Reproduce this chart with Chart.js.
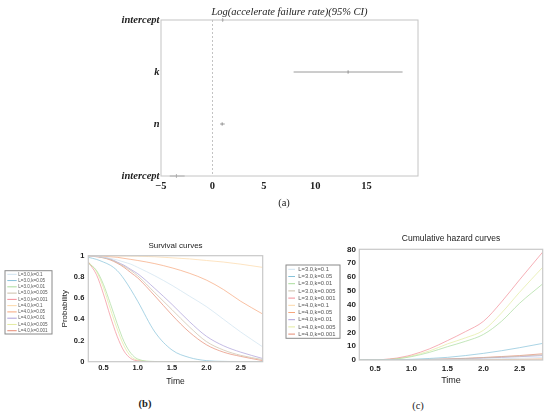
<!DOCTYPE html>
<html>
<head>
<meta charset="utf-8">
<script src="https://cdn.jsdelivr.net/npm/chart.js@4.4.0/dist/chart.umd.min.js"></script>
<style>
  body { margin: 0; background: #fff; }
  #wrap { position: relative; width: 550px; height: 415px; overflow: hidden; }
  canvas { position: absolute; }
  .cap { position: absolute; font-family: "Liberation Serif", serif; font-size: 10.5px; color: #222; transform: translate(-50%, -50%); }
</style>
</head>
<body>
<div id="wrap">
  <canvas id="chartA" width="550" height="200" style="left:0;top:0"></canvas>
  <canvas id="chartB" width="272" height="160" style="left:0;top:235px"></canvas>
  <canvas id="chartC" width="278" height="165" style="left:272px;top:228px"></canvas>
  <div class="cap" style="left:284px;top:202px">(a)</div>
  <div class="cap" style="left:145px;top:403px;font-weight:bold">(b)</div>
  <div class="cap" style="left:418px;top:405px">(c)</div>
</div>
<script>
// (a) coefficient plot
const paramLabels = ['intercept', 'k', 'n', 'intercept'];
const paramEst = [1.0, 13.2, 0.95, -3.5];
const paramLow = [0.9, 7.9, 0.75, -4.15];
const paramHigh = [1.1, 18.5, 1.2, -2.7];
const rateTicks = [-5, 0, 5, 10, 15];

// (b) and (c) share time points and groups
const times = [0.28, 0.4, 0.5, 0.6, 0.7, 0.8, 0.9, 1.0, 1.25, 1.5, 1.75, 2.0, 2.25, 2.5, 2.82];
const timeTicks = [0.5, 1.0, 1.5, 2.0, 2.5];
const probTicks = [0, 0.2, 0.4, 0.6, 0.8, 1];
const hazardTicks = [0, 10, 20, 30, 40, 50, 60, 70, 80];
const groups = ['L=3.0,k=0.1', 'L=3.0,k=0.05', 'L=3.0,k=0.01', 'L=3.0,k=0.005', 'L=3.0,k=0.001',
                'L=4.0,k=0.1', 'L=4.0,k=0.05', 'L=4.0,k=0.01', 'L=4.0,k=0.005', 'L=4.0,k=0.001'];
const groupColors = ['#cfe3f0', '#86c2da', '#a9dc9c', '#cbbfa8', '#f28e98',
                     '#fcd8a8', '#f6a67c', '#ab9ed8', '#e3eba0', '#e58a72'];

const survL3k01   = [1, 0.995, 0.985, 0.975, 0.96, 0.94, 0.92, 0.89, 0.81, 0.72, 0.62, 0.52, 0.40, 0.28, 0.14];
const survL3k005  = [0.985, 0.965, 0.94, 0.91, 0.86, 0.78, 0.68, 0.57, 0.28, 0.11, 0.04, 0.01, 0.003, 0, 0];
const survL3k001  = [0.93, 0.86, 0.73, 0.55, 0.36, 0.19, 0.08, 0.025, 0.002, 0, 0, 0, 0, 0, 0];
const survL3k0005 = [1, 0.995, 0.98, 0.965, 0.935, 0.90, 0.86, 0.81, 0.65, 0.49, 0.33, 0.19, 0.11, 0.06, 0.02];
const survL3k0001 = [0.94, 0.82, 0.64, 0.43, 0.24, 0.10, 0.03, 0.008, 0, 0, 0, 0, 0, 0, 0];
const survL4k01   = [1, 1, 1, 0.999, 0.998, 0.997, 0.996, 0.995, 0.99, 0.98, 0.97, 0.955, 0.94, 0.92, 0.89];
const survL4k005  = [1, 1, 0.995, 0.99, 0.985, 0.975, 0.965, 0.955, 0.925, 0.885, 0.835, 0.77, 0.68, 0.57, 0.45];
const survL4k001  = [1, 0.995, 0.985, 0.97, 0.94, 0.91, 0.87, 0.83, 0.69, 0.54, 0.38, 0.24, 0.15, 0.09, 0.03];
const survL4k0005 = [0.94, 0.85, 0.70, 0.50, 0.31, 0.15, 0.05, 0.015, 0.001, 0, 0, 0, 0, 0, 0];
const survL4k0001 = [1, 0.99, 0.98, 0.96, 0.93, 0.89, 0.84, 0.79, 0.62, 0.44, 0.28, 0.16, 0.09, 0.05, 0.01];

const hazL3k01   = [0, 0, 0, 0, 0.01, 0.02, 0.04, 0.08, 0.18, 0.3, 0.45, 0.65, 0.9, 1.25, 1.9];
const hazL3k005  = [0, 0, 0.01, 0.03, 0.07, 0.15, 0.3, 0.5, 1.1, 1.9, 3.2, 4.8, 6.7, 8.9, 12];
const hazL3k001  = [0, 0.02, 0.07, 0.2, 0.4, 0.8, 1.5, 2.4, 5.5, 9.6, 13.5, 18.5, 28, 41, 55];
const hazL3k0005 = [0, 0, 0, 0.01, 0.02, 0.04, 0.08, 0.15, 0.38, 0.65, 1.05, 1.6, 2.2, 2.8, 3.8];
const hazL3k0001 = [0, 0.02, 0.1, 0.3, 0.8, 1.4, 2.4, 3.6, 8, 14, 20.5, 28, 42, 58, 78];
const hazL4k01   = [0, 0, 0, 0, 0, 0, 0, 0.005, 0.01, 0.02, 0.03, 0.045, 0.06, 0.08, 0.12];
const hazL4k005  = [0, 0, 0, 0, 0, 0.01, 0.02, 0.03, 0.06, 0.1, 0.16, 0.24, 0.36, 0.52, 0.8];
const hazL4k001  = [0, 0, 0, 0, 0.01, 0.03, 0.06, 0.12, 0.3, 0.55, 0.9, 1.4, 1.9, 2.4, 3.2];
const hazL4k0005 = [0, 0.02, 0.08, 0.25, 0.5, 1.0, 1.8, 2.9, 6.5, 11.6, 16, 21.5, 34, 49, 67];
const hazL4k0001 = [0, 0, 0, 0.01, 0.02, 0.05, 0.1, 0.2, 0.45, 0.75, 1.2, 1.8, 2.5, 3.2, 4.5];

const survival = [survL3k01, survL3k005, survL3k001, survL3k0005, survL3k0001,
                  survL4k01, survL4k005, survL4k001, survL4k0005, survL4k0001];
const hazard = [hazL3k01, hazL3k005, hazL3k001, hazL3k0005, hazL3k0001,
                hazL4k01, hazL4k005, hazL4k001, hazL4k0005, hazL4k0001];

Chart.defaults.font.family = '"Liberation Sans", Arial, sans-serif';
Chart.defaults.color = '#222';
Chart.defaults.animation = false;

const serif = '"Liberation Serif", "DejaVu Serif", serif';

// plot lines are drawn paler than the legend swatches
function pale(hex, a) {
    const n = parseInt(hex.slice(1), 16);
    return 'rgba(' + (n >> 16) + ',' + ((n >> 8) & 255) + ',' + (n & 255) + ',' + a + ')';
}

// draws the grey frame round the plot area
const plotBox = {
    id: 'plotBox',
    afterDraw(chart, args, opts) {
        const a = chart.chartArea;
        const ctx = chart.ctx;
        ctx.save();
        ctx.strokeStyle = opts.color;
        ctx.lineWidth = opts.width;
        ctx.strokeRect(a.left, a.top, a.right - a.left, a.bottom - a.top);
        ctx.restore();
    }
};

// dotted reference line at x = 0
const zeroLine = {
    id: 'zeroLine',
    beforeDatasetsDraw(chart) {
        const x = chart.scales.x.getPixelForValue(0);
        const a = chart.chartArea;
        const ctx = chart.ctx;
        ctx.save();
        ctx.strokeStyle = '#b5b5b5';
        ctx.lineWidth = 0.8;
        ctx.setLineDash([2, 2]);
        ctx.beginPath();
        ctx.moveTo(x, a.top);
        ctx.lineTo(x, a.bottom);
        ctx.stroke();
        ctx.restore();
    }
};

// small framed legend placed to the left of the plot
const boxLegend = {
    id: 'boxLegend',
    afterDraw(chart, args, o) {
        const ctx = chart.ctx;
        ctx.save();
        ctx.strokeStyle = '#8a8a8a';
        ctx.lineWidth = 1;
        ctx.strokeRect(o.left, o.top, o.width, o.height);
        ctx.font = o.fontSize + 'px "Liberation Sans", Arial, sans-serif';
        ctx.textBaseline = 'middle';
        chart.data.datasets.forEach((ds, i) => {
            const y = o.firstRow + i * o.rowGap;
            ctx.strokeStyle = groupColors[i];
            ctx.lineWidth = 1;
            ctx.beginPath();
            ctx.moveTo(o.lineX0, y);
            ctx.lineTo(o.lineX1, y);
            ctx.stroke();
            ctx.fillStyle = '#555';
            ctx.fillText(ds.label, o.textX, y);
        });
        ctx.restore();
    }
};

// ---------- (a) ----------
const ciSets = paramLabels.map((lab, i) => ({
    label: lab,
    data: [{x: paramLow[i], y: i}, {x: paramHigh[i], y: i}],
    showLine: true,
    borderColor: '#9a9a9a',
    borderWidth: 1,
    pointRadius: 0,
    clip: false
}));
ciSets.push({
    label: 'estimate',
    data: paramEst.map((v, i) => ({x: v, y: i})),
    pointStyle: 'line',
    rotation: 90,
    pointRadius: 1.6,
    borderColor: '#888',
    borderWidth: 1,
    clip: false
});

new Chart(document.getElementById('chartA'), {
    type: 'scatter',
    data: { datasets: ciSets },
    options: {
        responsive: false,
        layout: { padding: { left: 0, right: 132, top: 0, bottom: 0 } },
        plugins: {
            legend: { display: false },
            tooltip: { enabled: false },
            title: {
                display: true,
                fullSize: false,
                text: 'Log(accelerate failure rate)(95% CI)',
                font: { family: serif, size: 10.5, style: 'italic', weight: 'normal' },
                color: '#222',
                padding: { top: 6, bottom: 1.4 }
            },
            plotBox: { color: '#c4c4c4', width: 1 }
        },
        scales: {
            x: {
                type: 'linear', min: -5, max: 20,
                afterBuildTicks: s => { s.ticks = rateTicks.map(v => ({value: v})); },
                afterFit: s => { s.height = 24; },
                grid: { display: false, drawTicks: false },
                border: { display: false },
                ticks: {
                    padding: 4,
                    font: { family: serif, size: 10.5, weight: 'bold' },
                    color: '#222',
                    callback: v => (v < 0 ? '\u2212' + Math.abs(v) : '' + v)
                }
            },
            y: {
                type: 'linear', min: 0, max: 3, reverse: true,
                afterBuildTicks: s => { s.ticks = paramLabels.map((l, i) => ({value: i})); },
                afterFit: s => { s.width = 161; },
                grid: { display: false, drawTicks: false },
                border: { display: false },
                ticks: {
                    padding: 1.5,
                    font: { family: serif, size: 10.5, weight: 'bold', style: 'italic' },
                    color: '#222',
                    callback: v => paramLabels[v]
                }
            }
        }
    },
    plugins: [zeroLine, plotBox]
});

// ---------- (b) and (c) ----------
function curveSets(series) {
    return series.map((ys, i) => ({
        label: groups[i],
        data: times.map((t, j) => ({x: t, y: ys[j]})),
        borderColor: pale(groupColors[i], 0.7),
        borderWidth: 1,
        pointRadius: 0,
        cubicInterpolationMode: 'monotone',
        fill: false
    }));
}

function timeAxis(height, labelPad, fontSize, titleSize) {
    return {
        type: 'linear', min: 0.28, max: 2.82,
        afterBuildTicks: s => { s.ticks = timeTicks.map(v => ({value: v})); },
        afterFit: s => { s.height = height; },
        grid: { display: false, drawTicks: false },
        border: { display: false },
        title: { display: true, text: 'Time', font: { size: titleSize }, color: '#222', padding: { top: 0, bottom: 2 } },
        ticks: { padding: labelPad, font: { size: fontSize, weight: 'bold' }, color: '#222', callback: v => v.toFixed(1) }
    };
}

new Chart(document.getElementById('chartB'), {
    type: 'line',
    data: { datasets: curveSets(survival) },
    options: {
        responsive: false,
        layout: { padding: { left: 56, right: 9.3, top: 0, bottom: 6.2 } },
        plugins: {
            legend: { display: false },
            tooltip: { enabled: false },
            title: {
                display: true, fullSize: false, text: 'Survival curves',
                font: { size: 8, weight: 'normal' }, color: '#222',
                padding: { top: 6.2, bottom: 4.9 }
            },
            plotBox: { color: '#c8c8c8', width: 1.2 },
            boxLegend: { left: 5, top: 35.7, width: 47, height: 63.3, firstRow: 39.3, rowGap: 6.27,
                         lineX0: 7.3, lineX1: 16.7, textX: 18.3, fontSize: 4.6 }
        },
        scales: {
            x: timeAxis(27.1, 2.1, 7.5, 8.5),
            y: {
                type: 'linear', min: 0, max: 1,
                afterBuildTicks: s => { s.ticks = probTicks.map(v => ({value: v})); },
                afterFit: s => { s.width = 32.3; },
                grid: { display: false, drawTicks: false },
                border: { display: false },
                title: { display: true, text: 'Probability', font: { size: 8 }, color: '#222', padding: { top: 4, bottom: 0 } },
                ticks: { padding: 4, font: { size: 7.5, weight: 'bold' }, color: '#222', callback: v => '' + v }
            }
        }
    },
    plugins: [plotBox, boxLegend]
});

new Chart(document.getElementById('chartC'), {
    type: 'line',
    data: { datasets: curveSets(hazard) },
    options: {
        responsive: false,
        layout: { padding: { left: 0, right: 7.3, top: 0, bottom: 4.9 } },
        plugins: {
            legend: { display: false },
            tooltip: { enabled: false },
            title: {
                display: true, fullSize: false, text: 'Cumulative hazard curves',
                font: { size: 8.5, weight: 'normal' }, color: '#222',
                padding: { top: 5.2, bottom: 5.9 }
            },
            plotBox: { color: '#c8c8c8', width: 1.2 },
            boxLegend: { left: 14, top: 37, width: 54, height: 73.3, firstRow: 41.3, rowGap: 7.2,
                         lineX0: 16.3, lineX1: 23, textX: 26.3, fontSize: 5.8 }
        },
        scales: {
            x: timeAxis(28.1, 3.7, 8, 9),
            y: {
                type: 'linear', min: 0, max: 80,
                afterBuildTicks: s => { s.ticks = hazardTicks.map(v => ({value: v})); },
                afterFit: s => { s.width = 87.3; },
                grid: { display: false, drawTicks: false },
                border: { display: false },
                ticks: { padding: 3.3, font: { size: 8, weight: 'bold' }, color: '#222', callback: v => '' + v }
            }
        }
    },
    plugins: [plotBox, boxLegend]
});
</script>
</body>
</html>
